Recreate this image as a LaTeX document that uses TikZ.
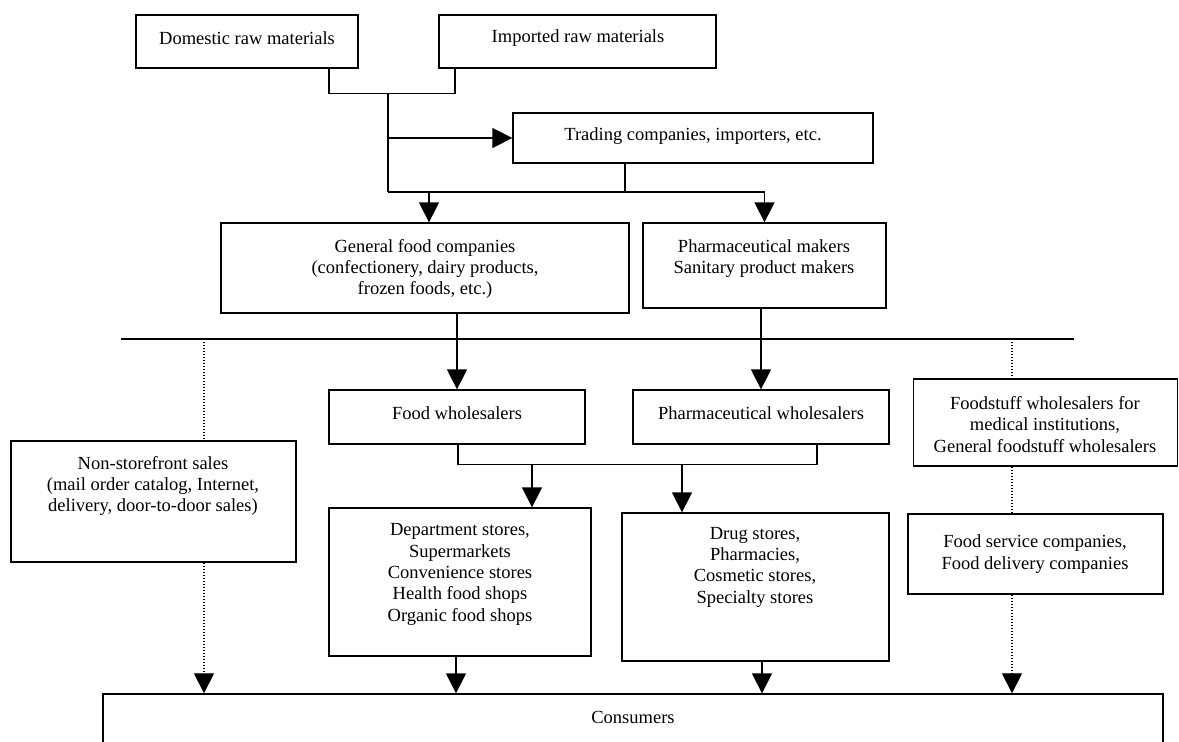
\documentclass[tikz,border=0pt]{standalone}
\usepackage{fontspec}
\setmainfont{Liberation Serif}
\usetikzlibrary{arrows.meta}
\begin{document}
\begin{tikzpicture}[x=1pt,y=-1pt,
  box/.style={draw=black,line width=1.3pt,inner sep=0pt,fill=none},
  txt/.style={inner sep=0pt,align=center,font=\fontsize{18.5}{21.3}\selectfont},
  conn/.style={draw=black,line width=1.5pt},
  arr/.style={conn,-{Triangle[length=20pt,width=20pt]}},
  dotln/.style={draw=black,line width=1.2pt,dash pattern=on 1.2pt off 1.8pt},
  dotarr/.style={dotln,-{Triangle[length=20pt,width=20pt]}}
]
\clip (0,0) rectangle (1179,742);
\fill[white] (0,0) rectangle (1179,742);

% boxes
\node[box,minimum width=222pt,minimum height=53pt] (dom) at (247,41.5) {};
\node[box,minimum width=277pt,minimum height=53pt] (imp) at (577.5,41.5) {};
\node[box,minimum width=360pt,minimum height=50pt] (trade) at (693,138) {};
\node[box,minimum width=408pt,minimum height=90pt] (gf) at (425,268) {};
\node[box,minimum width=243pt,minimum height=85pt] (pm) at (764.5,265.5) {};
\node[box,minimum width=256pt,minimum height=54pt] (fw) at (457,417) {};
\node[box,minimum width=256pt,minimum height=54pt] (pw) at (761,417) {};
\node[box,minimum width=264pt,minimum height=87pt] (fs) at (1045.5,422.5) {};
\node[box,minimum width=285pt,minimum height=121pt] (ns) at (153.5,501.5) {};
\node[box,minimum width=262pt,minimum height=148pt] (dept) at (460,582) {};
\node[box,minimum width=267pt,minimum height=148pt] (drug) at (755.5,587) {};
\node[box,minimum width=255pt,minimum height=80pt] (fsc) at (1035.5,554) {};
\node[box,minimum width=1060pt,minimum height=70pt] (cons) at (633,729) {};

% texts
\node[txt] (dom-t) at (247,38) {Domestic raw materials};
\node[txt] (imp-t) at (578,38) {Imported raw materials};
\node[txt] (trade-t) at (693,136) {Trading companies, importers, etc.};
\node[txt] (gf-t) at (425,269) {General food companies\\(confectionery, dairy products,\\frozen foods, etc.)};
\node[txt] (pm-t) at (764,258.5) {Pharmaceutical makers\\Sanitary product makers};
\node[txt] (fw-t) at (457,413) {Food wholesalers};
\node[txt] (pw-t) at (761,413) {Pharmaceutical wholesalers};
\node[txt] (fs-t) at (1045,424.5) {Foodstuff wholesalers for\\medical institutions,\\General foodstuff wholesalers};
\node[txt] (ns-t) at (153,486) {Non-storefront sales\\(mail order catalog, Internet,\\delivery, door-to-door sales)};
\node[txt] (dept-t) at (460,574.5) {Department stores,\\Supermarkets\\Convenience stores\\Health food shops\\Organic food shops};
\node[txt] (drug-t) at (755,567) {Drug stores,\\Pharmacies,\\Cosmetic stores,\\Specialty stores};
\node[txt] (fsc-t) at (1035,554) {Food service companies,\\Food delivery companies};
\node[txt] (cons-t) at (633,717) {Consumers};

% junction coordinates
\coordinate (j1) at (388,93);
\coordinate (j2) at (388,192);
\coordinate (j3) at (429,192);
\coordinate (j4) at (625,192);
\coordinate (j5) at (532,464);
\coordinate (j6) at (682,464);
\coordinate (h1) at (121,339);
\coordinate (h2) at (1074,339);
\coordinate (d1) at (204,339);
\coordinate (d2) at (1012,339);

% top connectors
\draw[conn] ([xshift=82pt]dom.south) -- ++(0,25) -| ([xshift=-122.5pt]imp.south);
\draw[conn] (j1) -- (j2);
\draw[arr] (j1 |- trade.west) -- (trade.west);
\draw[arr] (j2) -| (pm.north);
\draw[arr] (j3) -- (j3 |- gf.north);
\draw[conn] (j4 |- trade.south) -- (j4);

% divider line
\draw[conn] (h1) -- (h2);

% makers to wholesalers
\draw[arr] (fw.north |- gf.south) -- (fw.north);
\draw[arr] (pw.north |- pm.south) -- (pw.north);

% wholesalers to stores
\draw[conn] ([xshift=1pt]fw.south) -- ++(0,20) -| ([xshift=56pt]pw.south);
\draw[arr] (j5) -- (j5 |- dept.north);
\draw[arr] (j6) -- (j6 |- drug.north);

% stores to consumers
\draw[arr] ([xshift=-4pt]dept.south) -- ([xshift=-4pt]dept.south |- cons.north);
\draw[arr] ([xshift=6.5pt]drug.south) -- ([xshift=6.5pt]drug.south |- cons.north);

% dotted channels
\draw[dotln] (d1) -- (d1 |- ns.north);
\draw[dotarr] (d1 |- ns.south) -- (d1 |- cons.north);
\draw[dotln] (d2) -- (d2 |- fs.north);
\draw[dotln] (d2 |- fs.south) -- (d2 |- fsc.north);
\draw[dotarr] (d2 |- fsc.south) -- (d2 |- cons.north);
\end{tikzpicture}
\end{document}
